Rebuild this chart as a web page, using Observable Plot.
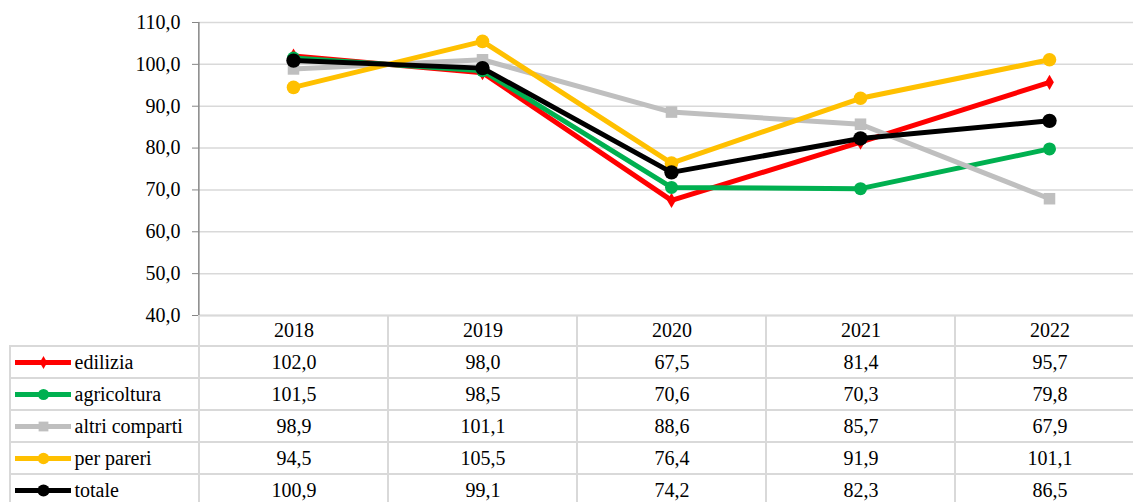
<!DOCTYPE html>
<html>
<head>
<meta charset="utf-8">
<script src="https://cdn.jsdelivr.net/npm/d3@7"></script>
<script src="https://cdn.jsdelivr.net/npm/@observablehq/plot@0.6"></script>
<style>
  html, body { margin: 0; padding: 0; background: white; }
</style>
</head>
<body>
<div id="wrap"></div>
<script>
const years = ["2018", "2019", "2020", "2021", "2022"];
const seriesNames = ["edilizia", "agricoltura", "altri comparti", "per pareri", "totale"];
const edilizia = [102.0, 98.0, 67.5, 81.4, 95.7];
const agricoltura = [101.5, 98.5, 70.6, 70.3, 79.8];
const altriComparti = [98.9, 101.1, 88.6, 85.7, 67.9];
const perPareri = [94.5, 105.5, 76.4, 91.9, 101.1];
const totale = [100.9, 99.1, 74.2, 82.3, 86.5];
const yTicks = [40, 50, 60, 70, 80, 90, 100, 110];

const seriesValues = [edilizia, agricoltura, altriComparti, perPareri, totale];
const colors = ["#FF0000", "#00B050", "#BFBFBF", "#FFC000", "#000000"];
const symbols = ["diamond", "circle", "square", "circle", "circle"];
const radii = [4.6, 6.5, 6.5, 6.8, 7.2];

const fmt = v => v.toFixed(1).replace(".", ",");
const series = seriesNames.map((name, i) => ({
  name, color: colors[i], symbol: symbols[i], r: radii[i], col: "",
  rows: years.map((y, j) => ({series: name, year: y, value: seriesValues[i][j]}))
}));

const FONT = 20;
const FF = "Liberation Serif";
const STYLE = {fontFamily: "Liberation Serif"};

// ---------- chart ----------
const chartMarks = [
  Plot.gridY({ticks: yTicks, stroke: "#d9d9d9", strokeOpacity: 1, strokeWidth: 1.5}),
  Plot.ruleY([40], {stroke: "#d9d9d9", strokeWidth: 2}),
  Plot.ruleX([years[0]], {y1: 40, y2: 110, dx: -94.65, stroke: "#868686", strokeWidth: 1.5}),
  Plot.axisY({ticks: yTicks, tickFormat: fmt, tickSize: 6, tickPadding: 12, stroke: "#868686", fill: "black", fontSize: FONT, fontFamily: FF, label: null}),
];
for (const s of series) {
  chartMarks.push(Plot.line(s.rows, {x: "year", y: "value", stroke: s.color, strokeWidth: 5, strokeLinejoin: "round"}));
  chartMarks.push(Plot.dot(s.rows, {x: "year", y: "value", fill: s.color, stroke: "none", symbol: s.symbol, r: s.r}));
}
const chart = Plot.plot({
  width: 1133, height: 315,
  marginLeft: 198, marginRight: 0, marginTop: 22, marginBottom: 0,
  style: STYLE,
  x: {type: "point", domain: years, range: [198, 1144.5], padding: 0.5, axis: null},
  y: {domain: [40, 110], range: [315, 22], axis: null, label: null},
  marks: chartMarks
});
chart.style.overflow = "visible";

// ---------- table ----------
const cols = ["", ...years];
const headerCells = years.map(y => ({col: y, row: "head", text: y}));
const bodyCells = series.flatMap(s => cols.map((c, j) => ({
  col: c, row: s.name, text: c === "" ? null : fmt(s.rows[j - 1].value)
})));
const tableMarks = [
  Plot.cell([...headerCells, ...bodyCells], {x: "col", y: "row", fill: "none", stroke: "#d9d9d9", strokeWidth: 2, inset: 0}),
  Plot.text(headerCells, {x: "col", y: "row", text: "text", fontSize: FONT, fontFamily: FF, fill: "black"}),
  Plot.text(bodyCells.filter(d => d.text), {x: "col", y: "row", text: "text", fontSize: FONT, fontFamily: FF, fill: "black"}),
  Plot.tickY(series, {x: "col", y: "name", stroke: "color", strokeWidth: 5, insetLeft: 5, insetRight: 128}),
  Plot.text(series, {x: "col", y: "name", text: "name", textAnchor: "start", dx: -30.5, fontSize: FONT, fontFamily: FF, fill: "black"})
];
for (const s of series) {
  tableMarks.push(Plot.dot([s], {x: "col", y: "name", fill: s.color, stroke: "none", symbol: s.symbol, r: s.r * 0.85, dx: -61.5}));
}
const table = Plot.plot({
  width: 1133, height: 187,
  margin: 0,
  style: STYLE,
  x: {type: "band", domain: cols, range: [10, 1144.5], padding: 0, axis: null},
  y: {type: "band", domain: ["head", ...seriesNames], range: [-2.6, 193], padding: 0, axis: null},
  color: {type: "identity"},
  marks: tableMarks
});

const wrap = document.getElementById("wrap");
wrap.appendChild(chart);
wrap.appendChild(table);
</script>
</body>
</html>
